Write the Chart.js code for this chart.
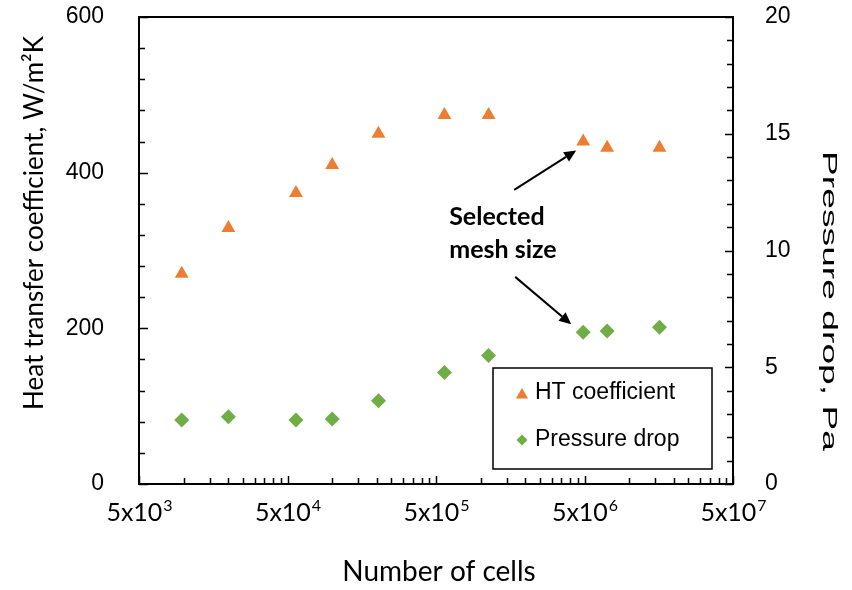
<!DOCTYPE html>
<html>
<head>
<meta charset="utf-8">
<script src="https://cdn.jsdelivr.net/npm/chart.js@4.4.1/dist/chart.umd.min.js"></script>
<style>
  html, body { margin: 0; padding: 0; background: #ffffff; }
  #wrap { width: 852px; height: 590px; }
</style>
</head>
<body>
<div id="wrap"><canvas id="meshChart" width="852" height="590"></canvas></div>
<script>
// Mesh independence study: heat transfer coefficient and pressure drop vs. cell count
const cellCounts     = [9700, 20000, 57000, 100000, 205000, 570000, 1130000, 4900000, 7100000, 16000000];
const htCoefficient  = [270, 329, 374, 410, 450, 474, 474, 440, 432, 432];
const pressureDrop   = [2.74, 2.88, 2.74, 2.78, 3.57, 4.77, 5.50, 6.50, 6.55, 6.71];
const selectedIndex  = 7;

// Axis ranges and labels
const xMin = 5e3, xMax = 5e7;
const xMajorValues   = [5e3, 5e4, 5e5, 5e6, 5e7];
const xMajorExponent = ['3', '4', '5', '6', '7'];
const leftMax = 600, leftMinorStep = 40, leftLabelStep = 200;
const rightMax = 20, rightMinorStep = 1, rightLabelStep = 5;

const seriesNames = ['HT coefficient', 'Pressure drop'];
const leftTitle   = 'Heat transfer coefficient, W/m\u00B2K';
const rightTitle  = 'Pressure drop, Pa';
const bottomTitle = 'Number of cells';
const noteLines   = ['Selected', 'mesh size'];

const ORANGE = '#ED7D31';
const GREEN  = '#70AD47';

function isMajorX(v) {
  return xMajorValues.some(m => Math.abs(v / m - 1) < 1e-6);
}

// Excel-style log ticks: 5e3 * k * 10^n, k = 1..9
function buildXTicks() {
  const out = [];
  for (let n = 0; n < 4; n++) {
    const base = xMin * Math.pow(10, n);
    for (let k = 1; k <= 9; k++) out.push(base * k);
  }
  out.push(xMax);
  return out;
}

function marker(ctx, style, radius, x, y, color) {
  ctx.save();
  ctx.fillStyle = color;
  if (Chart.helpers && Chart.helpers.drawPoint) {
    Chart.helpers.drawPoint(ctx, { pointStyle: style, radius: radius, rotation: 0, borderWidth: 0 }, x, y);
  } else {
    ctx.beginPath();
    if (style === 'triangle') {
      ctx.moveTo(x, y - radius);
      ctx.lineTo(x + radius * Math.sqrt(3) / 2, y + radius / 2);
      ctx.lineTo(x - radius * Math.sqrt(3) / 2, y + radius / 2);
    } else {
      ctx.moveTo(x, y - radius); ctx.lineTo(x + radius, y);
      ctx.lineTo(x, y + radius); ctx.lineTo(x - radius, y);
    }
    ctx.closePath();
    ctx.fill();
  }
  ctx.restore();
}

function arrow(ctx, x1, y1, x2, y2) {
  const ang = Math.atan2(y2 - y1, x2 - x1);
  const head = 12, half = 5.5;
  const bx = x2 - head * Math.cos(ang), by = y2 - head * Math.sin(ang);
  ctx.save();
  ctx.strokeStyle = '#000'; ctx.fillStyle = '#000'; ctx.lineWidth = 2;
  ctx.beginPath(); ctx.moveTo(x1, y1); ctx.lineTo(bx, by); ctx.stroke();
  ctx.beginPath();
  ctx.moveTo(x2, y2);
  ctx.lineTo(bx + half * Math.sin(ang), by - half * Math.cos(ang));
  ctx.lineTo(bx - half * Math.sin(ang), by + half * Math.cos(ang));
  ctx.closePath(); ctx.fill();
  ctx.restore();
}

// Frame, inward tick marks, x labels, titles, annotation and boxed legend
const decorations = {
  id: 'decorations',
  afterDraw(chart) {
    const ctx = chart.ctx;
    const ca = chart.chartArea;
    const xs = chart.scales.x, yl = chart.scales.yL, yr = chart.scales.yR;

    ctx.save();
    ctx.strokeStyle = '#000';
    ctx.lineWidth = 2;
    ctx.strokeRect(ca.left, ca.top, ca.right - ca.left, ca.bottom - ca.top);

    // tick marks pointing into the plot
    ctx.lineWidth = 1.5;
    ctx.beginPath();
    xs.ticks.forEach(t => {
      const px = Math.round(xs.getPixelForValue(t.value)) + 0.5;
      const len = isMajorX(t.value) ? 8 : 6;
      ctx.moveTo(px, ca.bottom); ctx.lineTo(px, ca.bottom - len);
    });
    yl.ticks.forEach(t => {
      const py = Math.round(yl.getPixelForValue(t.value)) + 0.5;
      const len = t.value % leftLabelStep === 0 ? 9 : 6;
      ctx.moveTo(ca.left, py); ctx.lineTo(ca.left + len, py);
    });
    yr.ticks.forEach(t => {
      const py = Math.round(yr.getPixelForValue(t.value)) + 0.5;
      const len = t.value % rightLabelStep === 0 ? 8 : 6;
      ctx.moveTo(ca.right, py); ctx.lineTo(ca.right - len, py);
    });
    ctx.stroke();

    // x tick labels: 5x10 with superscript exponent
    ctx.fillStyle = '#000';
    ctx.textBaseline = 'alphabetic';
    xMajorValues.forEach((v, i) => {
      const px = xs.getPixelForValue(v);
      ctx.font = '25px Lato';
      const baseW = ctx.measureText('5x10').width;
      ctx.font = '16px Lato';
      const expW = ctx.measureText(xMajorExponent[i]).width;
      const x0 = px - (baseW + expW) / 2;
      ctx.font = '25px Lato';
      ctx.textAlign = 'left';
      ctx.fillText('5x10', x0, ca.bottom + 37);
      ctx.font = '16px Lato';
      ctx.fillText(xMajorExponent[i], x0 + baseW + 1, ca.bottom + 27);
    });

    // axis titles
    ctx.textAlign = 'center';
    ctx.textBaseline = 'middle';
    ctx.font = '28px Lato';
    ctx.fillText(bottomTitle, (ca.left + ca.right) / 2 + 3, ca.bottom + 88);

    ctx.save();
    ctx.translate(ca.left - 104, ca.top + 206);
    ctx.rotate(-Math.PI / 2);
    ctx.font = '26px Lato';
    ctx.fillText(leftTitle, 0, 0);
    ctx.restore();

    ctx.save();
    ctx.translate(ca.right + 96, ca.top + 284);
    ctx.rotate(Math.PI / 2);
    ctx.font = '20px "Liberation Sans", Arial, sans-serif';
    const natural = ctx.measureText(rightTitle).width;
    ctx.scale(300 / natural, 1);
    ctx.fillText(rightTitle, 0, 0);
    ctx.restore();

    // annotation pointing at the selected mesh
    const hx = xs.getPixelForValue(cellCounts[selectedIndex]);
    const hy = yl.getPixelForValue(htCoefficient[selectedIndex]);
    const py = yr.getPixelForValue(pressureDrop[selectedIndex]);
    const mid = (hy + py) / 2;
    ctx.font = 'bold 25px Lato';
    ctx.textAlign = 'left';
    ctx.textBaseline = 'alphabetic';
    ctx.fillText(noteLines[0], hx - 134, mid - 12);
    ctx.fillText(noteLines[1], hx - 134, mid + 21);
    arrow(ctx, hx - 69, mid - 47, hx - 7, hy + 9);
    arrow(ctx, hx - 68, mid + 40, hx - 12, py - 8);

    // legend box
    const lx = ca.right - 240, ly = ca.bottom - 116, lw = 219, lh = 101;
    ctx.lineWidth = 1.5;
    ctx.strokeRect(lx, ly, lw, lh);
    marker(ctx, 'triangle', 7, lx + 29, ly + 27, ORANGE);
    marker(ctx, 'rectRot', 5.5, lx + 29, ly + 72, GREEN);
    ctx.font = '23px "Liberation Sans", Arial, sans-serif';
    ctx.fillStyle = '#000';
    ctx.textBaseline = 'middle';
    ctx.fillText(seriesNames[0], lx + 42, ly + 25);
    ctx.fillText(seriesNames[1], lx + 42, ly + 72);
    ctx.restore();
  }
};

const labelFont = { family: '"Liberation Sans", Arial, sans-serif', size: 23 };

function noEdgePadding(scale) {
  scale.paddingTop = 0;
  scale.paddingBottom = 0;
  scale.paddingLeft = 0;
  scale.paddingRight = 0;
}

new Chart(document.getElementById('meshChart'), {
  type: 'scatter',
  data: {
    datasets: [
      {
        label: seriesNames[0],
        data: cellCounts.map((n, i) => ({ x: n, y: htCoefficient[i] })),
        yAxisID: 'yL',
        pointStyle: 'triangle',
        pointRadius: 8,
        pointBackgroundColor: ORANGE,
        pointBorderWidth: 0,
        showLine: false
      },
      {
        label: seriesNames[1],
        data: cellCounts.map((n, i) => ({ x: n, y: pressureDrop[i] })),
        yAxisID: 'yR',
        pointStyle: 'rectRot',
        pointRadius: 7.5,
        pointBackgroundColor: GREEN,
        pointBorderWidth: 0,
        showLine: false
      }
    ]
  },
  options: {
    responsive: false,
    animation: false,
    devicePixelRatio: 1,
    layout: { padding: { top: 17, left: 0, right: 0, bottom: 0 } },
    plugins: { legend: { display: false }, tooltip: { enabled: false } },
    scales: {
      x: {
        type: 'logarithmic',
        position: 'bottom',
        min: xMin,
        max: xMax,
        grid: { display: false },
        border: { display: false },
        ticks: { display: false },
        afterBuildTicks(scale) {
          scale.ticks = buildXTicks().map(v => ({ value: v, major: isMajorX(v) }));
        },
        afterFit(scale) { scale.height = 106; noEdgePadding(scale); }
      },
      yL: {
        type: 'linear',
        position: 'left',
        min: 0,
        max: leftMax,
        grid: { display: false },
        border: { display: false },
        ticks: {
          stepSize: leftMinorStep,
          autoSkip: false,
          padding: 27,
          color: '#000',
          font: labelFont,
          callback: v => (v % leftLabelStep === 0 ? String(v) : '')
        },
        afterFit(scale) { scale.width = 139; noEdgePadding(scale); }
      },
      yR: {
        type: 'linear',
        position: 'right',
        min: 0,
        max: rightMax,
        grid: { display: false },
        border: { display: false },
        ticks: {
          stepSize: rightMinorStep,
          autoSkip: false,
          padding: 24,
          color: '#000',
          font: labelFont,
          callback: v => (v % rightLabelStep === 0 ? String(v) : '')
        },
        afterFit(scale) { scale.width = 119; noEdgePadding(scale); }
      }
    }
  },
  plugins: [decorations]
});
</script>
</body>
</html>
